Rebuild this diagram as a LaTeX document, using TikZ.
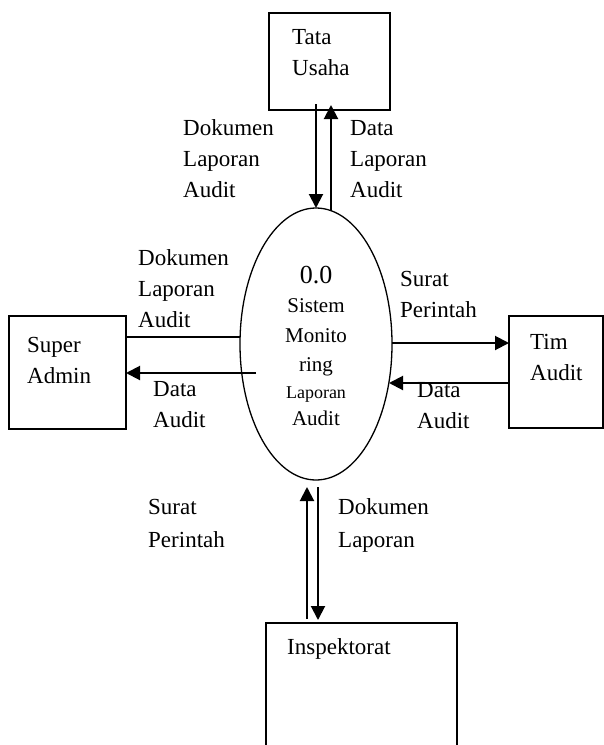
\documentclass[tikz,border=0pt]{standalone}
\usepackage{fontspec}
\setmainfont{Liberation Serif}
\usetikzlibrary{arrows.meta,shapes.geometric,calc}
\begin{document}
\begin{tikzpicture}[x=1pt,y=-1pt,
  entity/.style={draw,line width=1.3pt,anchor=north west,inner sep=0pt,outer sep=0pt},
  proc/.style={draw,ellipse,line width=1.3pt,minimum width=152pt,minimum height=272pt,inner sep=0pt,outer sep=0pt},
  flow/.style={line width=2pt,-{Triangle[length=14pt,width=14pt]}},
  link/.style={line width=2pt},
  lbl/.style={anchor=base west,align=left,inner sep=0pt,font=\fontsize{23}{31}\selectfont},
  lblb/.style={lbl,font=\fontsize{23}{33}\selectfont},
]
\clip (0,0) rectangle (604,745);
\fill[white] (0,0) rectangle (604,745);

% entities and process
\node[entity,minimum width=121pt,minimum height=97pt] (tu) at (269,13) {};
\node[entity,minimum width=117pt,minimum height=113pt] (sa) at (9,316) {};
\node[entity,minimum width=94pt,minimum height=112pt] (ta) at (509,316) {};
\node[entity,minimum width=191pt,minimum height=140pt] (ins) at (266,623) {};
\node[proc] (el) at (316,344) {};

% entity names (anchor = baseline of last line)
\node[lbl] (tutxt) at (292,75) {Tata\\Usaha};
\node[lbl] (satxt) at (27,383) {Super\\Admin};
\node[lbl] (tatxt) at (530,380) {Tim\\Audit};
\node[lbl] (instxt) at (287,654) {Inspektorat};

% process text
\node[anchor=base,align=center,inner sep=0pt,font=\fontsize{21}{29.5}\selectfont] (eltxt) at (316,425)
  {{\fontsize{26}{30}\selectfont 0.0}\\Sistem\\Monito\\ring\\[-3pt]{\fontsize{18}{24}\selectfont Laporan}\\[-2.5pt]Audit};

% flows: Tata Usaha
\draw[flow] ($(tu.south west)+(47,-6)$) -- (el.north);
\draw[flow] ($(el.center)+(15,-133)$) -- ($(tu.south west)+(62,-5)$);
% flows: Super Admin
\draw[link] ($(sa.north east)+(0,21)$) -- ($(el.center)+(-76,-7)$);
\coordinate (dsa) at ($(el.center)+(-60,29)$);
\draw[flow] (dsa) -- ($(sa.north east)+(0,57)$);
% flows: Tim Audit
\draw[flow] ($(el.center)+(76,-1)$) -- ($(ta.north west)+(0,27)$);
\draw[flow] ($(ta.north west)+(0,67)$) -- ($(el.center)+(73,39)$);
% flows: Inspektorat
\draw[flow] ($(ins.north west)+(41,-4)$) -- ($(el.south)+(-9,7)$);
\draw[flow] ($(el.south)+(2,7)$) -- ($(ins.north west)+(52,-3)$);

% flow labels
\node[lbl] (l1) at (183,197) {Dokumen\\Laporan\\Audit};
\node[lbl] (l2) at (350,197) {Data\\Laporan\\Audit};
\node[lbl] (l3) at (138,327) {Dokumen\\Laporan\\Audit};
\node[lbl] (l4) at (153,427) {Data\\Audit};
\node[lbl] (l5) at (400,317) {Surat\\Perintah};
\node[lbl] (l6) at (417,428) {Data\\Audit};
\node[lblb] (l7) at (148,547) {Surat\\Perintah};
\node[lblb] (l8) at (338,547) {Dokumen\\Laporan};
\end{tikzpicture}
\end{document}
